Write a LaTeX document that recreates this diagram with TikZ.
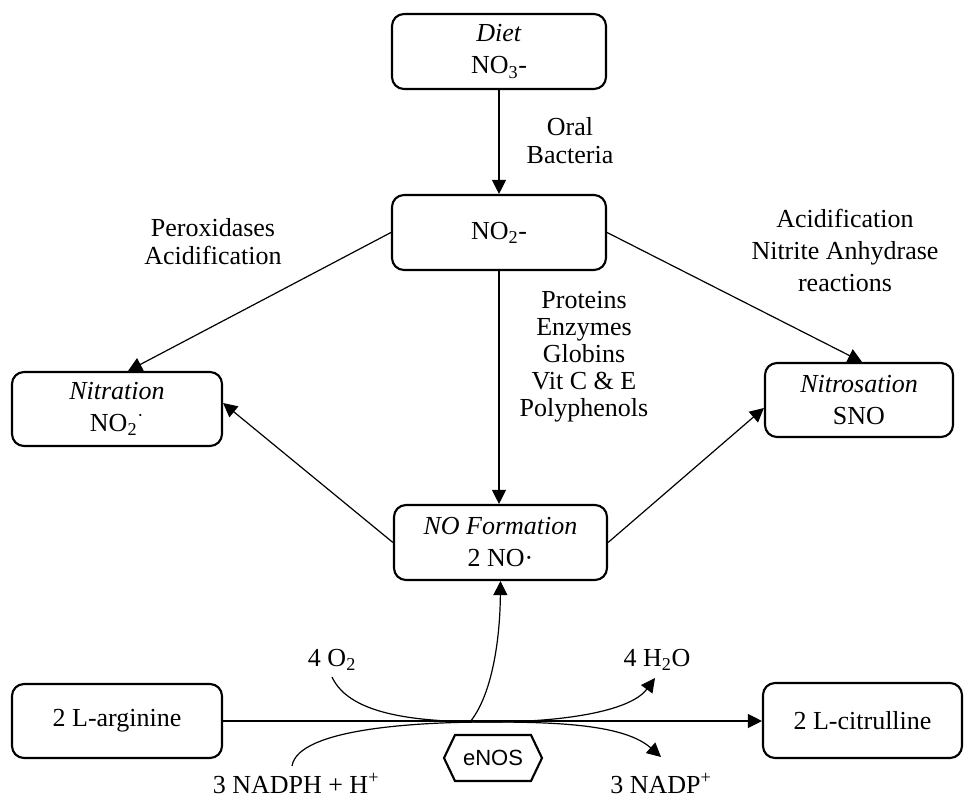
\documentclass[tikz,border=0pt]{standalone}
\usepackage{fontspec}
\setmainfont{Liberation Serif}
\setsansfont{Liberation Sans}
\usetikzlibrary{arrows.meta,calc}
\begin{document}
\begin{tikzpicture}[x=0.75pt,y=-0.75pt,
  box/.style={draw,line width=1.6pt,rounded corners=9pt,align=center,inner sep=0pt,
    font=\fontsize{19.5}{24}\selectfont},
  lbl/.style={align=center,inner sep=0pt,font=\fontsize{19.5}{#1}\selectfont},
  lbl/.default=21,
  arr/.style={line width=0.9pt,-{Triangle[length=10.5pt,width=10.5pt]}},
  ln/.style={line width=0.9pt}]
\useasboundingbox (0,0) rectangle (965,797);

% boxes
\node[box,minimum width=160.5pt,minimum height=56.25pt] (diet) at (499,51.5) {\textit{Diet}\\NO\textsubscript{3}-};
\node[box,minimum width=160.5pt,minimum height=56.25pt] (no2) at (499,232.5) {NO\textsubscript{2}-};
\node[box,minimum width=157.5pt,minimum height=55.5pt] (nitration) at (117,409) {\textit{Nitration}\\NO\textsubscript{2}\textsuperscript{·}};
\node[box,minimum width=141pt,minimum height=55.5pt] (nitros) at (859,400) {\textit{Nitrosation}\\SNO};
\node[box,minimum width=159.75pt,minimum height=56.25pt] (noform) at (500.5,542.5) {\textit{NO Formation}\\2 NO·};
\node[box,minimum width=157.5pt,minimum height=55.5pt] (arg) at (117,721) {2 L-arginine};
\node[box,minimum width=149.25pt,minimum height=56.25pt] (cit) at (862.5,720.5) {2 L-citrulline};

% eNOS hexagon
\node[inner sep=0pt,font=\sffamily\fontsize{16.5}{18}\selectfont] (enos) at (493,758) {eNOS};
\draw[line width=1.6pt] (enos.center) ++(-49,0) -- ++(11,-23) -- ++(76,0) -- ++(11,23) -- ++(-11,23) -- ++(-76,0) -- cycle;

% labels
\node[lbl] (oral) at (570,141) {Oral\\Bacteria};
\node[lbl] (perox) at (213,242) {Peroxidases\\Acidification};
\node[lbl=24] (acid) at (845,250) {Acidification\\Nitrite Anhydrase\\reactions};
\node[lbl=20.25] (prot) at (584,357) {Proteins\\Enzymes\\Globins\\Vit C \& E\\Polyphenols};
\node[lbl] (o2) at (332,660) {4 O\textsubscript{2}};
\node[lbl] (h2o) at (657,660) {4 H\textsubscript{2}O};
\node[lbl] (nadph) at (296,783) {3 NADPH + H\textsuperscript{+}};
\node[lbl] (nadp) at (661,783) {3 NADP\textsuperscript{+}};

% connectors
\draw[arr] (diet.south) -- (diet.south |- no2.north);
\draw[arr] (no2.west) -- ($(nitration.north)+(11,0)$);
\draw[arr] (no2.east) -- ($(nitros.north)+(3,0)$);
\draw[arr] (no2.south) -- (no2.south |- noform.north);
\draw[arr] (noform.west) -- ($(nitration.east)+(0,-6)$);
\draw[arr] (noform.east) -- ($(nitros.west)+(0,8)$);
\draw[arr] (arg.east) -- (arg.east -| cit.west);

% reaction curves
\coordinate (o2s) at (332,677);
\coordinate (h2oe) at (655,678);
\coordinate (nadphs) at (292,766);
\coordinate (nadpe) at (661,757);
\coordinate (tp) at (490,722);
\coordinate (up) at (470,722);
\draw[arr] (o2s) .. controls (350,716) and (420,722) .. (tp) .. controls (560,722) and (625,725) .. (nadpe);
\draw[arr] (nadphs) .. controls (298,728) and (420,722) .. (tp) .. controls (560,722) and (630,712) .. (h2oe);
\draw[arr] (up) .. controls (492,695) and (500,640) .. (noform.south);
\end{tikzpicture}
\end{document}
